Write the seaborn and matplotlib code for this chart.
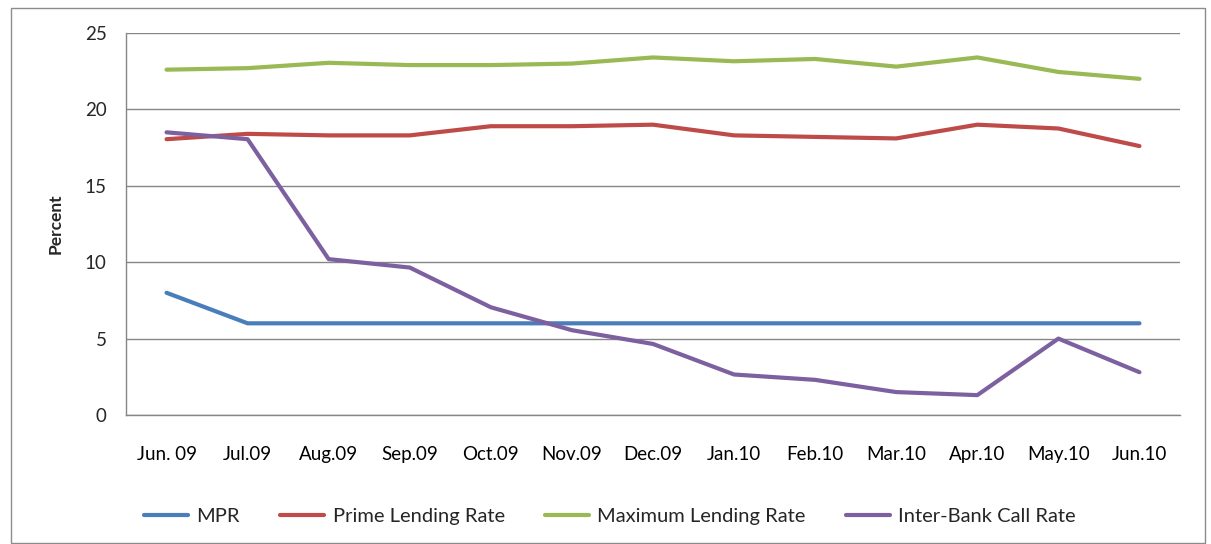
import matplotlib
matplotlib.use("Agg")
import matplotlib.pyplot as plt
from matplotlib.patches import Rectangle
import seaborn as sns
import pandas as pd

months = ["Jun. 09", "Jul.09", "Aug.09", "Sep.09", "Oct.09", "Nov.09", "Dec.09",
          "Jan.10", "Feb.10", "Mar.10", "Apr.10", "May.10", "Jun.10"]
mpr = [8.0, 6.0, 6.0, 6.0, 6.0, 6.0, 6.0, 6.0, 6.0, 6.0, 6.0, 6.0, 6.0]
prime_lending = [18.05, 18.4, 18.3, 18.3, 18.9, 18.9, 19.0, 18.3, 18.2, 18.1, 19.0, 18.75, 17.6]
max_lending = [22.6, 22.7, 23.05, 22.9, 22.9, 23.0, 23.4, 23.15, 23.3, 22.8, 23.4, 22.45, 22.0]
interbank_call = [18.5, 18.05, 10.2, 9.65, 7.05, 5.55, 4.65, 2.65, 2.3, 1.5, 1.3, 5.0, 2.8]

series_names = ["MPR", "Prime Lending Rate", "Maximum Lending Rate", "Inter-Bank Call Rate"]
series_values = [mpr, prime_lending, max_lending, interbank_call]
colors = ["#4A7EBB", "#BE4B48", "#98B954", "#7D60A0"]

rows = []
for name, vals in zip(series_names, series_values):
    for i, v in enumerate(vals):
        rows.append({"pos": i, "Month": months[i], "Rate": name, "Percent": v})
df = pd.DataFrame(rows)

sns.set_style("white")
plt.rcParams["font.family"] = ["Lato", "DejaVu Sans"]

fig = plt.figure(figsize=(12.11, 5.44), dpi=100)
ax = fig.add_axes([126 / 1211, 1 - 415 / 544, (1180 - 126) / 1211, (415 - 33) / 544])

sns.lineplot(data=df, x="pos", y="Percent", hue="Rate", hue_order=series_names,
             palette=colors, linewidth=3.0, ax=ax, legend=False,
             solid_capstyle="round", solid_joinstyle="round")

grid_col = "#868686"
ax.set_ylim(0, 25)
ax.set_yticks([0, 5, 10, 15, 20, 25])
ax.set_xlim(-0.5, len(months) - 0.5)
ax.yaxis.grid(True, color=grid_col, linewidth=1.0)
ax.set_axisbelow(True)

# category labels centred between boundary tick marks
ax.set_xticks(range(len(months)))
ax.set_xticklabels(months)
ax.set_xticks([i - 0.5 for i in range(len(months) + 1)], minor=True)
ax.tick_params(axis="x", which="major", length=0, pad=22, labelsize=13.5, colors="black")
ax.tick_params(axis="x", which="minor", length=6, width=1, color=grid_col, direction="out")
ax.tick_params(axis="y", length=6, width=1, color=grid_col, direction="out",
               labelsize=13.5, pad=8)

for side in ["top", "right"]:
    ax.spines[side].set_visible(False)
for side in ["left", "bottom"]:
    ax.spines[side].set_color(grid_col)
    ax.spines[side].set_linewidth(1.0)

ax.set_xlabel("")
ax.set_ylabel("Percent", fontsize=12.5, fontweight="bold", labelpad=15)

handles = [plt.Line2D([], [], color=c, linewidth=3.0, solid_capstyle="round") for c in colors]
fig.legend(handles, series_names, loc="center", bbox_to_anchor=(610 / 1211, 1 - 516 / 544),
           ncol=4, frameon=False, fontsize=14.5, handlelength=2.2, handletextpad=0.4,
           columnspacing=2.0)

fig.patches.append(Rectangle((11 / 1211, 1 / 544), (1205 - 11) / 1211, (536 - 1) / 544,
                             transform=fig.transFigure, fill=False,
                             edgecolor="#8c8c8c", linewidth=1.0))

fig.savefig("out.png", dpi=100)
